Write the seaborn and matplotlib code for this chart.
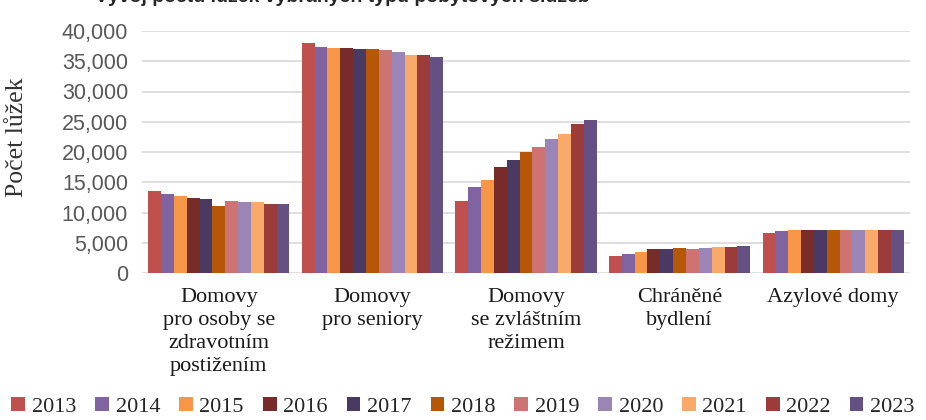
import pandas as pd
import matplotlib.pyplot as plt
import matplotlib.ticker as mticker
import seaborn as sns

# Počet lůžek podle typu zařízení, roky 2013-2023
years = ["2013", "2014", "2015", "2016", "2017", "2018",
         "2019", "2020", "2021", "2022", "2023"]
categories = ["Domovy\npro osoby se\nzdravotním\npostižením",
              "Domovy\npro seniory",
              "Domovy\nse zvláštním\nrežimem",
              "Chráněné\nbydlení",
              "Azylové domy"]

dozp = [13500, 13000, 12720, 12390, 12280, 11070, 11840, 11730, 11670, 11450, 11450]
ds = [38050, 37340, 37230, 37230, 37060, 37060, 36790, 36460, 35960, 36020, 35690]
dzr = [11950, 14250, 15450, 17600, 18740, 20000, 20880, 22090, 23020, 24660, 25260]
chb = [2850, 3130, 3510, 3900, 3950, 4060, 3950, 4170, 4340, 4340, 4450]
ad = [6530, 6860, 7190, 7030, 7140, 7190, 7030, 7140, 7140, 7140, 7030]

colors = ["#C0504D", "#8064A2", "#F79646", "#772C2A", "#4A3A63", "#B65708",
          "#CD7371", "#9A85B6", "#F9A96A", "#9B3C3A", "#655083"]

rows = []
for cat, vals in zip(categories, [dozp, ds, dzr, chb, ad]):
    for yr, v in zip(years, vals):
        rows.append({"typ": cat, "rok": yr, "luzka": v})
df = pd.DataFrame(rows)

sns.set_style("white")
plt.rcParams["font.family"] = ["Liberation Serif", "DejaVu Serif"]

fig = plt.figure(figsize=(9.26, 4.2), dpi=100)
ax = fig.add_axes([142 / 926, 1 - 273 / 420, 768 / 926, 242 / 420])

sns.barplot(data=df, x="typ", y="luzka", hue="rok", palette=colors,
            width=0.92, gap=0, saturation=1, edgecolor="none",
            errorbar=None, legend=True, ax=ax, zorder=3)

ax.set_ylim(0, 40000)
ax.set_xlim(-0.5, 4.5)
ax.yaxis.set_major_locator(mticker.MultipleLocator(5000))
ax.yaxis.set_major_formatter(mticker.FuncFormatter(lambda v, p: f"{int(v):,}"))
ax.grid(axis="y", color="#D9D9D9", linewidth=1.2, zorder=0)
sns.despine(ax=ax, left=True, bottom=True, top=True, right=True)

ax.tick_params(axis="y", length=0, pad=10, labelsize=15.5, labelcolor="#595959")
for t in ax.get_yticklabels():
    t.set_fontfamily("Liberation Sans")
ax.tick_params(axis="x", length=0, pad=11, labelsize=16, labelcolor="#1a1a1a")
for t in ax.get_xticklabels():
    t.set_linespacing(1.28)

ax.set_xlabel("")
ax.set_ylabel("Počet lůžek", fontsize=18.5, color="#333333")
ax.yaxis.set_label_coords(-0.148, 0.56)

handles, labels = ax.get_legend_handles_labels()
ax.get_legend().remove()
fig.legend(handles, labels, loc="center", bbox_to_anchor=(0.5, 1 - 407 / 420),
           ncol=11, frameon=False, fontsize=16, handlelength=0.62,
           handleheight=0.62, handletextpad=0.3, columnspacing=0.85,
           borderaxespad=0, borderpad=0)

# nadpis je v originále oříznutý horním okrajem
fig.text(95 / 926, 1 - 1.5 / 420, "Vývoj počtu lůžek vybraných typů pobytových služeb",
         fontsize=14, fontweight="bold", family="Liberation Sans",
         ha="left", va="baseline")

fig.savefig("out.png", dpi=100)
